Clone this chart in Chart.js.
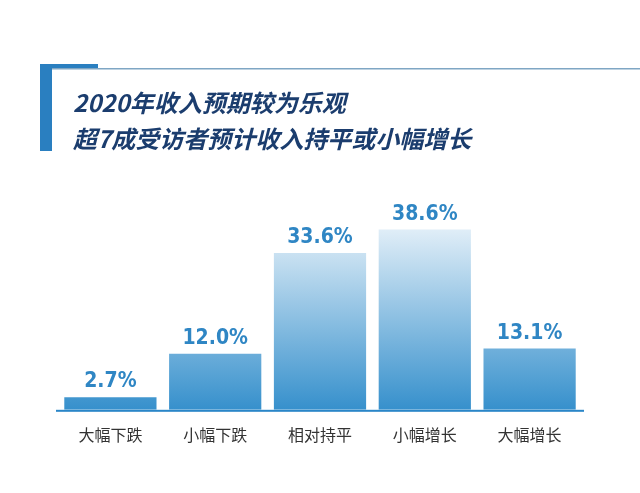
<!DOCTYPE html>
<html><head><meta charset="utf-8">
<script src="https://cdn.jsdelivr.net/npm/chart.js@4"></script>
<style>html,body{margin:0;padding:0;background:#fff}#w{width:640px;height:493px;position:relative}</style>
</head><body><div id="w"><canvas id="c" width="640" height="493"></canvas></div>
<script>
const categories = ["大幅下跌","小幅下跌","相对持平","小幅增长","大幅增长"];
const values = [2.7, 12.0, 33.6, 38.6, 13.1];
const titleLines = ["2020年收入预期较为乐观","超7成受访者预计收入持平或小幅增长"];

const deco = {
  id:'deco',
  beforeDraw(ch){
    const c=ch.ctx; c.save();
    c.fillStyle='#2a7fc0'; c.fillRect(40,64,12,87);
    c.fillRect(52,64,46,4);
    c.fillStyle='#7fa6c4'; c.fillRect(52,68,588,1.5);
    c.fillStyle='#1b3d6e'; c.font='italic bold 24px "Noto Sans CJK SC"'; c.textBaseline='alphabetic';
    c.fillText(titleLines[0],73,112); c.fillText(titleLines[1],73,148);
    c.restore();
  },
  afterDatasetsDraw(ch){
    const c=ch.ctx; c.save();
    const meta=ch.getDatasetMeta(0);
    c.fillStyle='#2f86c4'; c.font='bold 21px "Liberation Sans Narrow","DejaVu Sans Condensed",sans-serif'; c.textAlign='center';
    meta.data.forEach((b,i)=>{c.fillText(values[i].toFixed(1)+'%',b.x,b.y-10);});
    const a=ch.chartArea; c.fillStyle='#2a86c8'; c.fillRect(a.left-2,a.bottom,a.right-a.left+4,2);
    c.restore();
  }
};
new Chart(document.getElementById('c'),{
  type:'bar',
  data:{labels:categories,datasets:[{data:values,
    backgroundColor(ctx){const a=ctx.chart.chartArea; if(!a) return '#5aa0d0';
      const g=ctx.chart.ctx.createLinearGradient(0,a.top,0,a.bottom);
      g.addColorStop(0,'#e6f1f9'); g.addColorStop(1,'#3690cc'); return g;},
    categoryPercentage:0.88, barPercentage:1}]},
  options:{responsive:false,animation:false,devicePixelRatio:1,
    layout:{padding:{left:58,right:58,top:223,bottom:40}},
    plugins:{legend:{display:false},tooltip:{enabled:false}},
    scales:{y:{display:false,min:0,max:40},
      x:{grid:{display:false},border:{display:false},ticks:{color:'#333',font:{size:16,family:'"Noto Sans CJK SC"'},padding:8}}}},
  plugins:[deco]
});
</script></body></html>
